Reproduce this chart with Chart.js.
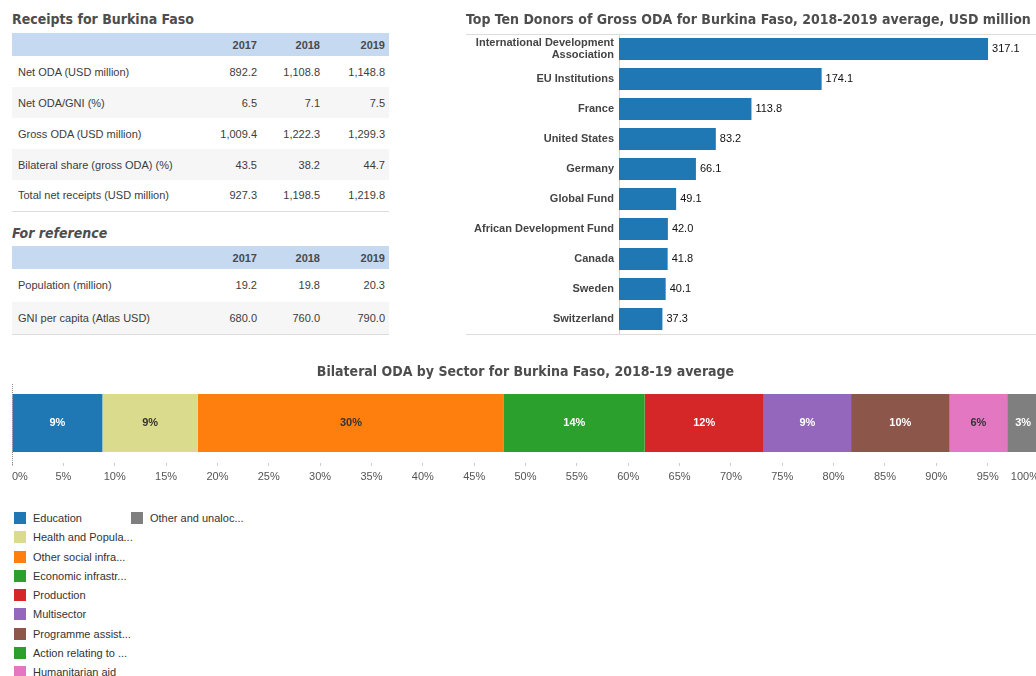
<!DOCTYPE html>
<html>
<head>
<meta charset="utf-8">
<script src="https://cdn.jsdelivr.net/npm/chart.js@4.4.0/dist/chart.umd.min.js"></script>
<style>
body { margin: 0; width: 1036px; height: 676px; overflow: hidden; background: #fff; position: relative; font-family: "Liberation Sans", Arial, sans-serif; }
.head { position: absolute; left: 12px; font: bold 14px "DejaVu Sans Condensed", "DejaVu Sans", sans-serif; color: #4d4d4d; line-height: 16px; white-space: nowrap; }
table { position: absolute; left: 12px; width: 377px; border-collapse: collapse; table-layout: fixed; font-size: 11px; color: #3c3c3c; border-bottom: 1px solid #dcdcdc; }
th { background: #c5d9f1; font-weight: bold; color: #4a4a4a; text-align: right; height: 23px; padding: 0 4px 0 0; }
td { padding: 0 4px 0 0; text-align: right; }
td.lab { text-align: left; padding-left: 6px; }
tr.alt td { background: #f6f6f6; }
.box { position: absolute; }
#legend { position: absolute; left: 14px; top: 511px; font-size: 11px; color: #333; }
.li { position: absolute; white-space: nowrap; height: 14px; line-height: 14px; }
.li span { display: inline-block; width: 12px; height: 12px; vertical-align: top; margin: 1px 7px 0 0; }
</style>
</head>
<body>

<div class="head" style="top:11px">Receipts for Burkina Faso</div>
<table id="receipts" style="top:33px"></table>
<div class="head" style="top:225px;font-style:italic">For reference</div>
<table id="reference" style="top:246px"></table>

<div class="box" style="left:466px;top:0;width:580px;height:345px">
  <canvas id="donorChart" width="580" height="345"></canvas>
</div>
<div class="box" style="left:0;top:350px;width:1051px;height:135px">
  <canvas id="sectorChart" width="1051" height="135"></canvas>
</div>
<div id="legend"></div>

<script>
// ---- data ----
const years = ['2017', '2018', '2019'];
const receiptRows = ['Net ODA (USD million)', 'Net ODA/GNI (%)', 'Gross ODA (USD million)', 'Bilateral share (gross ODA) (%)', 'Total net receipts (USD million)'];
const receiptValues = [
    ['892.2', '1,108.8', '1,148.8'],
    ['6.5', '7.1', '7.5'],
    ['1,009.4', '1,222.3', '1,299.3'],
    ['43.5', '38.2', '44.7'],
    ['927.3', '1,198.5', '1,219.8']
];
const referenceRows = ['Population (million)', 'GNI per capita (Atlas USD)'];
const referenceValues = [
    ['19.2', '19.8', '20.3'],
    ['680.0', '760.0', '790.0']
];

const donors = [['International Development', 'Association'], 'EU Institutions', 'France', 'United States', 'Germany',
    'Global Fund', 'African Development Fund', 'Canada', 'Sweden', 'Switzerland'];
const donorValues = [317.1, 174.1, 113.8, 83.2, 66.1, 49.1, 42.0, 41.8, 40.1, 37.3];

const sectors = ['Education', 'Health and Popula...', 'Other social infra...', 'Economic infrastr...', 'Production',
    'Multisector', 'Programme assist...', 'Action relating to ...', 'Humanitarian aid', 'Other and unaloc...'];
const sectorShares = [8.8, 9.3, 29.8, 13.7, 11.6, 8.5, 9.6, 0.0, 5.6, 3.1];
const sectorColors = ['#1f77b4', '#dbdb8d', '#ff7f0e', '#2ca02c', '#d62728', '#9467bd', '#8c564b', '#2ca02c', '#e377c2', '#7f7f7f'];
const shareTicks = [0, 5, 10, 15, 20, 25, 30, 35, 40, 45, 50, 55, 60, 65, 70, 75, 80, 85, 90, 95, 100];

// ---- tables ----
function fillTable(id, rows, values, rowHeight) {
    const t = document.getElementById(id);
    let html = '<colgroup><col style="width:183px"><col style="width:66px"><col style="width:63px"><col style="width:65px"></colgroup>';
    html += '<tr><th></th>' + years.map(y => '<th>' + y + '</th>').join('') + '</tr>';
    rows.forEach((r, i) => {
        html += '<tr class="' + (i % 2 ? 'alt' : '') + '" style="height:' + rowHeight + 'px"><td class="lab">' + r + '</td>' +
            values[i].map(v => '<td>' + v + '</td>').join('') + '</tr>';
    });
    t.innerHTML = html;
}
fillTable('receipts', receiptRows, receiptValues, 31);
fillTable('reference', referenceRows, referenceValues, 32.5);

const FONT = '"Liberation Sans", Arial, sans-serif';
const TITLE_FONT = '"DejaVu Sans Condensed", "DejaVu Sans", sans-serif';

// ---- donors bar chart ----
const frameLines = {
    id: 'frameLines',
    afterDraw(chart) {
        const { ctx, chartArea } = chart;
        ctx.save();
        ctx.strokeStyle = '#dcdcdc';
        ctx.lineWidth = 1;
        [chartArea.top, chartArea.bottom].forEach(y => {
            ctx.beginPath();
            ctx.moveTo(0, Math.round(y) + 0.5);
            ctx.lineTo(chart.width, Math.round(y) + 0.5);
            ctx.stroke();
        });
        ctx.restore();
    }
};

const barValueLabels = {
    id: 'barValueLabels',
    afterDatasetsDraw(chart) {
        const ctx = chart.ctx;
        ctx.save();
        ctx.font = '11px "Liberation Sans Narrow", ' + FONT;
        ctx.fillStyle = '#111';
        ctx.textBaseline = 'middle';
        chart.getDatasetMeta(0).data.forEach((bar, i) => {
            ctx.fillText(donorValues[i].toFixed(1), bar.x + 4, bar.y);
        });
        ctx.restore();
    }
};

new Chart(document.getElementById('donorChart'), {
    type: 'bar',
    data: {
        labels: donors,
        datasets: [{
            data: donorValues,
            backgroundColor: '#1f77b4',
            borderWidth: 0,
            barPercentage: 0.73,
            categoryPercentage: 1
        }]
    },
    options: {
        indexAxis: 'y',
        responsive: false,
        animation: false,
        layout: { padding: { left: 0, right: 10, top: 0, bottom: 11 } },
        plugins: {
            legend: { display: false },
            tooltip: { enabled: false },
            title: {
                display: true,
                text: 'Top Ten Donors of Gross ODA for Burkina Faso, 2018-2019 average, USD million',
                align: 'start',
                color: '#4d4d4d',
                font: { family: TITLE_FONT, size: 14, weight: 'bold', lineHeight: 1.2 },
                padding: { top: 12.4, bottom: 4.8 }
            }
        },
        scales: {
            x: { display: false, min: 0, max: 358.3 },
            y: {
                grid: { display: false, drawTicks: false },
                border: { display: true, color: '#d4d4d4' },
                afterFit: scale => {
                    scale.width = 153;
                    scale.paddingTop = 0;
                    scale.paddingBottom = 0;
                },
                ticks: {
                    padding: 5,
                    color: '#444',
                    font: { family: FONT, size: 11, weight: 'bold', lineHeight: 1.1 }
                }
            }
        }
    },
    plugins: [frameLines, barValueLabels]
});

// ---- sector stacked bar ----
function textColorFor(hex) {
    const r = parseInt(hex.substr(1, 2), 16), g = parseInt(hex.substr(3, 2), 16), b = parseInt(hex.substr(5, 2), 16);
    return (0.299 * r + 0.587 * g + 0.114 * b) > 140 ? '#333' : '#fff';
}

const segmentLabels = {
    id: 'segmentLabels',
    afterDatasetsDraw(chart) {
        const { ctx, chartArea } = chart;
        ctx.save();
        ctx.font = 'bold 11px ' + FONT;
        ctx.textAlign = 'center';
        ctx.textBaseline = 'middle';
        chart.data.datasets.forEach((ds, i) => {
            const bar = chart.getDatasetMeta(i).data[0];
            if (sectorShares[i] < 1) return;
            ctx.fillStyle = textColorFor(sectorColors[i]);
            ctx.fillText(Math.round(sectorShares[i]) + '%', (bar.x + bar.base) / 2, bar.y);
        });
        // dotted baseline on the left
        ctx.strokeStyle = '#8c8c8c';
        ctx.setLineDash([1, 1]);
        ctx.beginPath();
        ctx.moveTo(chartArea.left + 0.5, chartArea.top + 1);
        ctx.lineTo(chartArea.left + 0.5, chartArea.bottom + 3);
        ctx.stroke();
        ctx.restore();
    }
};

new Chart(document.getElementById('sectorChart'), {
    type: 'bar',
    data: {
        labels: [''],
        datasets: sectors.map((s, i) => ({
            label: s,
            data: [sectorShares[i]],
            backgroundColor: sectorColors[i],
            borderWidth: 0,
            barPercentage: 0.725,
            categoryPercentage: 1
        }))
    },
    options: {
        indexAxis: 'y',
        responsive: false,
        animation: false,
        layout: { padding: { left: 12, right: 12, top: 0, bottom: 0 } },
        plugins: {
            legend: { display: false },
            tooltip: { enabled: false },
            title: {
                display: true,
                text: 'Bilateral ODA by Sector for Burkina Faso, 2018-19 average',
                color: '#4d4d4d',
                font: { family: TITLE_FONT, size: 14, weight: 'bold', lineHeight: 1.2 },
                padding: { top: 14.4, bottom: 1.8 }
            }
        },
        scales: {
            y: { display: false, stacked: true },
            x: {
                stacked: true,
                min: 0,
                max: 100,
                afterFit: scale => { scale.height = 22; },
                afterBuildTicks: scale => { scale.ticks = shareTicks.map(v => ({ value: v })); },
                grid: { drawOnChartArea: false, drawTicks: true, tickLength: 3, color: '#cccccc' },
                border: { display: false },
                ticks: {
                    align: 'inner',
                    autoSkip: false,
                    maxRotation: 0,
                    padding: 4,
                    color: '#555',
                    font: { family: FONT, size: 11 },
                    callback: v => v + '%'
                }
            }
        }
    },
    plugins: [segmentLabels]
});

// ---- legend ----
const legend = document.getElementById('legend');
sectors.forEach((s, i) => {
    const col = Math.floor(i / 9), row = i % 9;
    const d = document.createElement('div');
    d.className = 'li';
    d.style.left = (col * 117) + 'px';
    d.style.top = (row * 19.25) + 'px';
    d.innerHTML = '<span style="background:' + sectorColors[i] + '"></span>' + s;
    legend.appendChild(d);
});
</script>
</body>
</html>
